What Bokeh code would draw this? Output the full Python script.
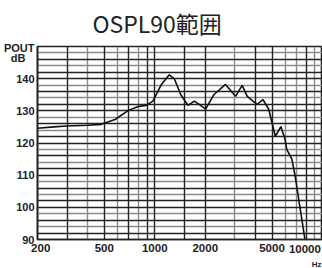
from bokeh.plotting import figure
from bokeh.models import FixedTicker, Grid, Range1d, Title
from bokeh.embed import file_html
from bokeh.resources import INLINE

# ---- data ----
freq_hz = [200, 250, 300, 400, 480, 580, 690, 790, 890, 975, 1090, 1220, 1310,
           1430, 1580, 1720, 1840, 2010, 2250, 2640, 3030, 3320, 3560, 4070,
           4420, 4780, 5230, 5650, 5990, 6120, 6560, 6870, 7870]
spl_db = [124.6, 125.0, 125.3, 125.5, 125.8, 127.3, 130.0, 131.3, 131.7, 133.0,
          138.0, 141.2, 139.9, 135.0, 131.7, 133.0, 132.0, 130.5, 135.0, 138.2,
          134.5, 137.9, 134.5, 132.0, 133.5, 130.5, 122.1, 125.1, 121.0, 118.0,
          115.1, 109.7, 89.8]

NB = "\u00a0"
x_tick_values = [200, 500, 1000, 2000, 5000]
x_tick_labels = [NB * 2 + "200", "500", "1000", "2000", "5000"]
x_end_label = "10000"          # label of the right edge (10000 Hz)
unit_text = "Hz"
y_tick_values = [90, 100, 110, 120, 130, 140, 148]
y_tick_labels = ["90", "100", "110", "120", "130", "140", "POUT\n   dB"]

x_grid_dark = [300, 500, 700, 900, 1000, 1500, 2000, 4000, 5000, 8000]
x_grid_grey = [400, 600, 800, 3000, 6000, 7000, 9000]
y_grid_dark = [92, 96, 100, 102, 106, 110, 112, 116, 120, 122, 126, 130, 132, 136, 140, 142, 146]
y_grid_grey = [94, 98, 104, 108, 114, 118, 124, 128, 134, 138, 144, 148]

title_text = "OSPL90範囲"

NARROW = "'Liberation Sans Narrow', 'Liberation Sans', sans-serif"

p = figure(width=322, height=268, x_axis_type="log",
           x_range=Range1d(200, 10000), y_range=Range1d(90, 150),
           output_backend="svg", toolbar_location=None,
           min_border_left=35, min_border_right=0, min_border_top=44,
           min_border_bottom=20)
p.background_fill_color = "white"
p.border_fill_color = "white"
p.outline_line_color = "#222222"
p.outline_line_width = 1.6

p.title.text = title_text
p.title.text_font = "Noto Sans CJK JP"
p.title.text_font_size = "23px"
p.title.text_font_style = "normal"
p.title.text_color = "#222222"
p.title.align = "left"
p.title.offset = 55
p.title.standoff = 10
p.title.vertical_align = "top"

# axes
for ax in (p.xaxis[0], p.yaxis[0]):
    ax.major_tick_line_color = None
    ax.minor_tick_line_color = None
    ax.major_tick_out = 0
    ax.major_tick_in = 0
    ax.axis_line_color = "#222222"
    ax.axis_line_width = 1.6
    ax.major_label_text_font = NARROW
    ax.major_label_text_font_style = "bold"
    ax.major_label_text_color = "#222222"

p.xaxis.ticker = FixedTicker(ticks=x_tick_values)
p.xaxis.major_label_overrides = {v: l for v, l in zip(x_tick_values, x_tick_labels)}
p.xaxis.major_label_text_font_size = "11.5px"
p.xaxis.major_label_standoff = 2
p.xaxis.axis_label = x_end_label + NB * 11
p.xaxis.axis_label_align = "end"
p.xaxis.axis_label_standoff = -14
p.xaxis.axis_label_text_font = NARROW
p.xaxis.axis_label_text_font_style = "bold"
p.xaxis.axis_label_text_font_size = "11.5px"
p.xaxis.axis_label_text_color = "#222222"

p.yaxis.ticker = FixedTicker(ticks=y_tick_values)
p.yaxis.major_label_overrides = {v: l for v, l in zip(y_tick_values, y_tick_labels)}
p.yaxis.major_label_text_font_size = "11px"
p.yaxis.major_label_text_line_height = 0.8
p.yaxis.major_label_standoff = 3

# unit under the right end of the x axis
p.add_layout(Title(text=unit_text, align="right", offset=1, standoff=0,
                   text_font=NARROW, text_font_style="bold", text_font_size="8px",
                   text_color="#222222"), "below")

# grids
p.xgrid.visible = False
p.ygrid.visible = False
p.add_layout(Grid(dimension=0, ticker=FixedTicker(ticks=x_grid_grey),
                  grid_line_color="#8a8a8a", grid_line_width=1.4))
p.add_layout(Grid(dimension=1, ticker=FixedTicker(ticks=y_grid_grey),
                  grid_line_color="#8a8a8a", grid_line_width=1.4))
p.add_layout(Grid(dimension=0, ticker=FixedTicker(ticks=x_grid_dark),
                  grid_line_color="#222222", grid_line_width=1.4))
p.add_layout(Grid(dimension=1, ticker=FixedTicker(ticks=y_grid_dark),
                  grid_line_color="#222222", grid_line_width=1.4))

# curve
p.line(freq_hz, spl_db, line_color="#111111", line_width=1.6)

open("out.html", "w").write(file_html(p, INLINE))
